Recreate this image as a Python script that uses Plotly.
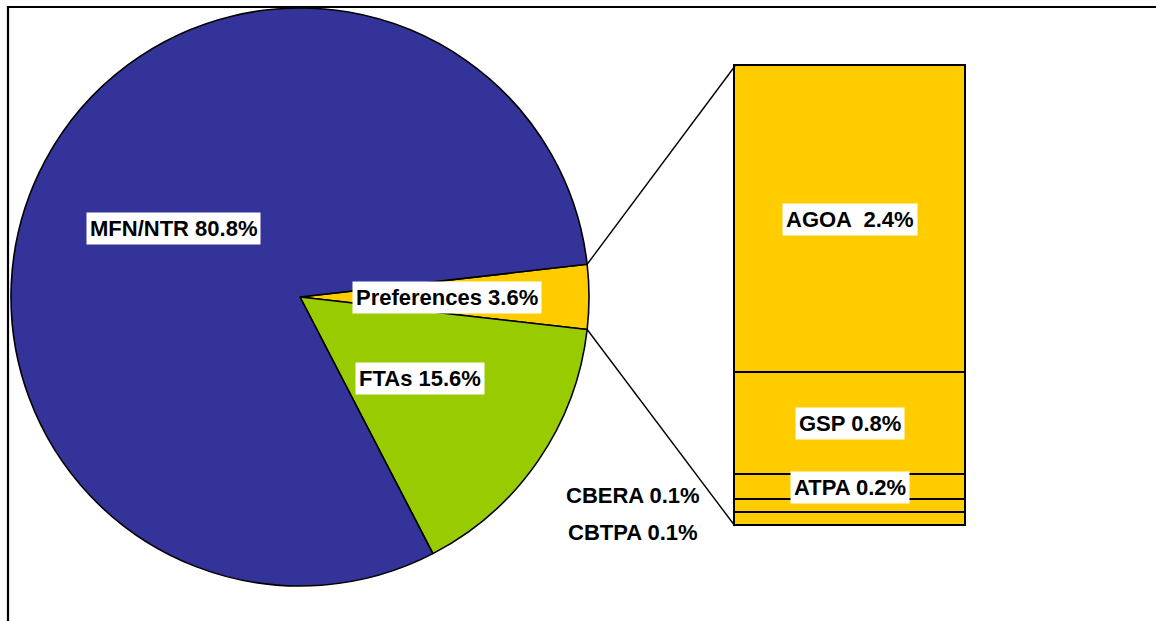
import math
import plotly.graph_objects as go

# ---- data ----
pie_labels = ["Preferences", "FTAs", "MFN/NTR"]
pie_values = [3.6, 15.6, 80.8]
pie_colors = ["#FFCC00", "#99CC00", "#333399"]

bar_labels = ["CBTPA", "CBERA", "ATPA", "GSP", "AGOA"]   # bottom to top
bar_values = [0.1, 0.1, 0.2, 0.8, 2.4]

# ---- layout geometry (pixels) ----
W, H = 1156, 621
PIE_CX, PIE_CY, PIE_R = 300, 297, 289
ROTATION = 83.5
BAR_X0, BAR_X1, BAR_TOP, BAR_BOT = 735, 966, 66, 526
PAD = 6  # px of empty axis room around the bar so its outline is not clipped
FONT = "Liberation Sans, Arial, sans-serif"
FS = 22

def px(x):
    return x / W

def py(y):
    return 1 - y / H

fig = go.Figure()

fig.add_trace(go.Pie(
    labels=pie_labels, values=pie_values, sort=False, direction="clockwise",
    rotation=ROTATION, textinfo="none", hoverinfo="label+percent",
    marker=dict(colors=pie_colors, line=dict(color="black", width=1.6)),
    domain=dict(x=[px(PIE_CX - PIE_R), px(PIE_CX + PIE_R)],
                y=[py(PIE_CY + PIE_R), py(PIE_CY - PIE_R)]),
    showlegend=False,
))

for lab, val in zip(bar_labels, bar_values):
    fig.add_trace(go.Bar(
        x=[0], y=[val], name=lab, width=1,
        marker=dict(color="#FFCC00", line=dict(color="black", width=1.6)),
        showlegend=False, hoverinfo="name+y",
    ))

total_pref = sum(bar_values)
ux = 1.0 / (BAR_X1 - BAR_X0)            # x units per px
uy = total_pref / (BAR_BOT - BAR_TOP)   # y units per px
fig.update_layout(
    width=W, height=H, margin=dict(l=0, r=0, t=0, b=0),
    paper_bgcolor="white", plot_bgcolor="rgba(0,0,0,0)",
    barmode="stack", bargap=0,
    xaxis=dict(domain=[px(BAR_X0 - PAD), px(BAR_X1 + PAD)],
               range=[-0.5 - PAD * ux, 0.5 + PAD * ux], visible=False, fixedrange=True),
    yaxis=dict(domain=[py(BAR_BOT + PAD), py(BAR_TOP - PAD)],
               range=[-PAD * uy, total_pref + PAD * uy], visible=False, fixedrange=True),
)

# connector lines from the Preferences slice edges to the bar corners
pref_share = pie_values[0] / sum(pie_values)
a0 = math.radians(90 - ROTATION)
a1 = a0 - 2 * math.pi * pref_share
for ang, by in [(a0, BAR_TOP), (a1, BAR_BOT)]:
    x0 = PIE_CX + PIE_R * math.cos(ang)
    y0 = PIE_CY - PIE_R * math.sin(ang)
    fig.add_shape(type="line", xref="paper", yref="paper",
                  x0=px(x0), y0=py(y0), x1=px(BAR_X0), y1=py(by),
                  line=dict(color="black", width=1.4))

# frame
fig.add_shape(type="rect", xref="paper", yref="paper",
              x0=px(8), y0=py(640), x1=px(1180), y1=py(7),
              line=dict(color="black", width=2.2))

def label(text, x, y, box=True, xref="paper", yref="paper"):
    fig.add_annotation(
        text="<b>%s</b>" % text, x=x, y=y, xref=xref, yref=yref,
        showarrow=False, font=dict(family=FONT, size=FS, color="black"),
        bgcolor="white" if box else None, borderpad=3,
        xanchor="center", yanchor="middle",
    )

pct = {l: v for l, v in zip(pie_labels, pie_values)}
label("MFN/NTR %.1f%%" % pct["MFN/NTR"], px(173), py(229))
label("Preferences %.1f%%" % pct["Preferences"], px(447), py(297))
label("FTAs %.1f%%" % pct["FTAs"], px(420), py(378))

cum = 0
mids = {}
for lab, val in zip(bar_labels, bar_values):
    mids[lab] = cum + val / 2
    cum += val
bv = dict(zip(bar_labels, bar_values))
label("AGOA  %.1f%%" % bv["AGOA"], 0, mids["AGOA"], xref="x", yref="y")
label("GSP %.1f%%" % bv["GSP"], 0, mids["GSP"], xref="x", yref="y")
label("ATPA %.1f%%" % bv["ATPA"], 0, mids["ATPA"], xref="x", yref="y")
label("CBERA %.1f%%" % bv["CBERA"], px(633), py(495), box=False)
label("CBTPA %.1f%%" % bv["CBTPA"], px(633), py(532), box=False)

fig.write_html("out.html", config={"displayModeBar": False},
               post_script="document.body.style.margin='0';")
